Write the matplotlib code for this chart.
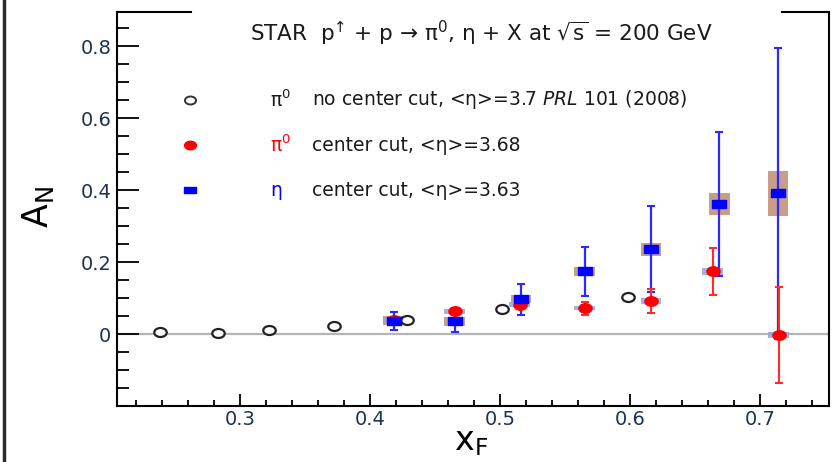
import matplotlib
matplotlib.use("Agg")
import matplotlib.pyplot as plt
import numpy as np
from matplotlib.path import Path
from matplotlib.lines import Line2D

plt.rcParams['font.family'] = ['DejaVu Sans']
plt.rcParams['mathtext.fontset'] = 'dejavusans'

# pi0, no center cut (PRL 101, 2008)
x_nocut = [0.238, 0.283, 0.322, 0.372, 0.428, 0.501, 0.598]
a_nocut = [0.006, 0.003, 0.010, 0.023, 0.039, 0.069, 0.102]

# pi0, center cut
x_pi0 = [0.418, 0.465, 0.515, 0.565, 0.616, 0.6635, 0.7143]
a_pi0 = [0.040, 0.063, 0.082, 0.072, 0.092, 0.174, -0.003]
stat_pi0 = [0.008, 0.006, 0.010, 0.018, 0.034, 0.065, 0.133]
sys_pi0 = [0.006, 0.006, 0.006, 0.006, 0.008, 0.010, 0.008]

# eta, center cut
x_eta = [0.418, 0.465, 0.516, 0.565, 0.616, 0.6685, 0.7138]
a_eta = [0.037, 0.035, 0.097, 0.174, 0.236, 0.361, 0.391]
stat_eta = [0.025, 0.028, 0.043, 0.067, 0.120, 0.200, 0.405]
sys_eta = [0.012, 0.012, 0.012, 0.013, 0.018, 0.031, 0.063]

# markers are a bit wider than tall
ell = Path(Path.unit_circle().vertices * [1.0, 0.72], Path.unit_circle().codes)
rect = Path([(-1, -0.58), (1, -0.58), (1, 0.58), (-1, 0.58), (-1, -0.58)],
            [Path.MOVETO, Path.LINETO, Path.LINETO, Path.LINETO, Path.CLOSEPOLY])

fig = plt.figure(figsize=(8.32, 4.62), dpi=100)
ax = fig.add_axes([117/832, 56/462, 712/832, 394/462])

ax.set_xlim(0.205, 0.753)
ax.set_ylim(-0.2, 0.895)

ax.axhline(0, color='#b4b4b4', lw=1.6, zorder=1)

# systematic boxes
ax.bar(x_eta, 2*np.array(sys_eta), bottom=np.array(a_eta)-np.array(sys_eta),
       width=0.016, color='#c39479', alpha=0.9, zorder=2)
ax.bar(x_pi0, 2*np.array(sys_pi0), bottom=np.array(a_pi0)-np.array(sys_pi0),
       width=0.016, color='#8ca5e6', alpha=0.85, zorder=2)

ax.plot(x_nocut, a_nocut, ls='none', marker=ell, ms=9, mfc='white',
        mec='#222222', mew=1.6, zorder=4)

ax.errorbar(x_eta, a_eta, yerr=stat_eta, fmt='none', ecolor='#2a2aff',
            elinewidth=1.6, capsize=3, capthick=1.5, zorder=3)
ax.plot(x_eta, a_eta, ls='none', marker=rect, ms=9.5, color='#0000ff', zorder=5)

ax.errorbar(x_pi0, a_pi0, yerr=stat_pi0, fmt='none', ecolor='#ff2a2a',
            elinewidth=1.5, capsize=3, capthick=1.5, zorder=3)
ax.plot(x_pi0, a_pi0, ls='none', marker=ell, ms=9.5, color='#ff0000', zorder=4)

# axes styling
ax.spines['top'].set_visible(False)
for s in ['left', 'bottom', 'right']:
    ax.spines[s].set_linewidth(1.5)
ax.plot([0, 0.104], [1, 1], color='black', lw=1.5, transform=ax.transAxes, clip_on=False)
ax.plot([0.934, 1], [1, 1], color='black', lw=1.5, transform=ax.transAxes, clip_on=False)

ax.set_xticks(np.arange(0.3, 0.71, 0.1))
ax.set_xticks(np.arange(0.22, 0.75, 0.02), minor=True)
ax.set_yticks([0, 0.2, 0.4, 0.6, 0.8])
ax.set_yticks(np.arange(-0.15, 0.89, 0.05), minor=True)
ax.set_xticklabels(['0.3', '0.4', '0.5', '0.6', '0.7'])
ax.set_yticklabels(['0', '0.2', '0.4', '0.6', '0.8'])
ax.tick_params(axis='both', which='both', direction='in', color='black', width=1.3,
               labelcolor='#1c3252', labelsize=14)
ax.tick_params(axis='y', which='major', length=16, pad=4, right=False)
ax.tick_params(axis='y', which='minor', length=8.5, right=False)
ax.tick_params(axis='x', which='major', length=8.5, pad=3, top=False)
ax.tick_params(axis='x', which='minor', length=4.5, top=False)

ax.text(0.512, 0.948, 'STAR  p$^{↑}$ + p → π$^{0}$, η + X at $\\sqrt{\\mathrm{s}}$ = 200 GeV',
        transform=ax.transAxes, ha='center', va='center', fontsize=15.5, color='#1a1a1a')

# legend
rows = [0.777, 0.662, 0.548]
ax.plot([0.1025], [rows[0]], marker=ell, ms=8, mfc='white', mec='#333333', mew=1.4,
        transform=ax.transAxes, clip_on=False)
ax.plot([0.1025], [rows[1]], marker=ell, ms=8.5, color='#ff0000',
        transform=ax.transAxes, clip_on=False)
ax.plot([0.1025], [rows[2]], marker=rect, ms=8.5, color='#0000ff',
        transform=ax.transAxes, clip_on=False)
syms = [('π$^{0}$', '#1a1a1a'), ('π$^{0}$', '#ff0000'), ('η', '#0000ff')]
descs = [r'no center cut, <η>=3.7 $\mathit{PRL}$ 101 (2008)',
         'center cut, <η>=3.68',
         'center cut, <η>=3.63']
for yy, (sym, c), d in zip(rows, syms, descs):
    ax.text(0.215, yy, sym, transform=ax.transAxes, ha='left', va='center',
            fontsize=13.5, color=c)
    ax.text(0.274, yy, d, transform=ax.transAxes, ha='left', va='center',
            fontsize=13.5, color='#1a1a1a')

fig.text(471/832, 1 - 450/462, r'x$_{\rm F}$', ha='center', va='baseline', fontsize=24)
fig.text(38/832, 1 - 207/462, r'A$_{\rm N}$', ha='center', va='center', fontsize=25,
         rotation=90)

# dark border strip on the left edge
fig.add_artist(Line2D([4/832, 4/832], [0, 1], color='#2b2b2b', lw=2.5))

fig.savefig('out.png', dpi=100)
